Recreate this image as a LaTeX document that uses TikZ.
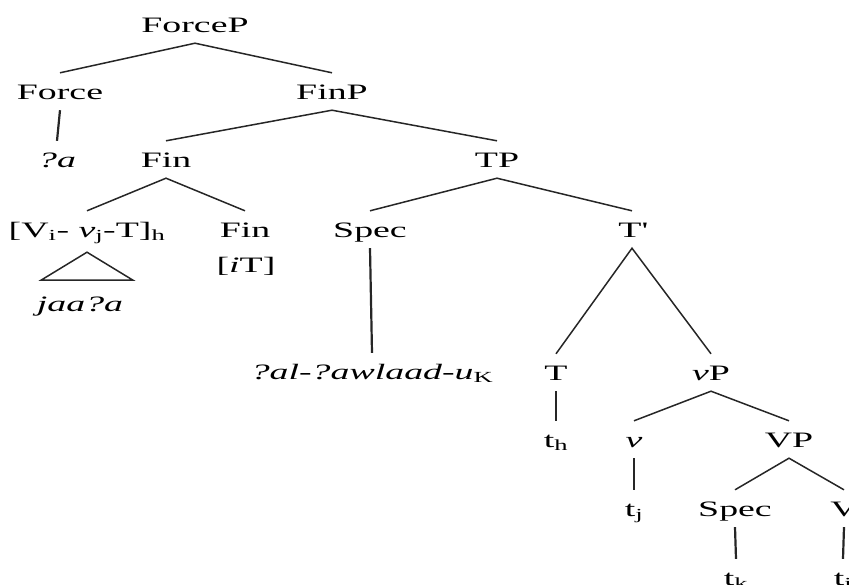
\documentclass[tikz,border=0pt]{standalone}
\usepackage{fontspec}
\setmainfont{Liberation Serif}[FakeStretch=1.72]
\begin{document}
\begin{tikzpicture}[x=1pt,y=-1pt,
  lbl/.style={anchor=base,inner xsep=0pt,inner ysep=11pt,text height=15pt,text depth=0pt,
    font=\fontsize{22}{26}\selectfont},
  br/.style={draw=black!85,line width=1.5pt},
  vbr/.style={draw=black!85,line width=2.2pt}]
\useasboundingbox (0,0) rectangle (849,584);
\clip (0,0) rectangle (849,584);
\node[lbl] (ForceP) at (195,32) {ForceP};
\node[lbl] (Force) at (60,99) {Force};
\node[lbl] (FinP) at (332,99) {FinP};
\node[lbl] (a) at (57,167) {\textit{?a}};
\node[lbl] (Fin) at (166,167) {Fin};
\node[lbl] (TP) at (497,167) {TP};
\node[lbl] (Vvt) at (87,237) {[V\textsubscript{i}- \textit{v}\textsubscript{j}-T]\textsubscript{h}};
\node[lbl] (FinH) at (245,237) {Fin};
\node[lbl] (FinF) at (246,272) {[\textit{i}T]};
\node[lbl] (jaa) at (80,311) {\textit{jaa?a}};
\node[lbl] (SpecT) at (370,237) {Spec};
\node[lbl] (Tbar) at (632,237) {T\textquotesingle};
\node[lbl] (al) at (372,379) {\textit{?al-?awlaad-u}\textsubscript{K}};
\node[lbl] (T) at (556,380) {T};
\node[lbl] (vP) at (711,380) {\textit{v}P};
\node[lbl] (th) at (556,447) {t\textsubscript{h}};
\node[lbl] (v) at (634,447) {\textit{v}};
\node[lbl] (VP) at (789,447) {VP};
\node[lbl] (tj) at (634,516) {t\textsubscript{j}};
\node[lbl] (SpecV) at (735,516) {Spec};
\node[lbl] (V) at (844,516) {V};
\node[lbl] (tk) at (736,585) {t\textsubscript{k}};
\node[lbl] (ti) at (843,585) {t\textsubscript{i}};
\draw[br] (Force.north) -- (ForceP.south) -- (FinP.north);
\draw[vbr] (Force.south) -- (a.north);
\draw[br] (Fin.north) -- (FinP.south) -- (TP.north);
\draw[br] (Vvt.north) -- (Fin.south) -- (FinH.north);
\draw[br] (Vvt.south) ++(0,4) -- ++(-46,28) -- ++(92,0) -- cycle;
\draw[br] (SpecT.north) -- (TP.south) -- (Tbar.north);
\draw[vbr] (SpecT.south) -- (al.north);
\draw[br] (T.north) -- (Tbar.south) -- (vP.north);
\draw[vbr] (T.south) -- (th.north);
\draw[br] (v.north) -- (vP.south) -- (VP.north);
\draw[vbr] (v.south) -- (tj.north);
\draw[br] (SpecV.north) -- (VP.south) -- (V.north);
\draw[vbr] (SpecV.south) -- (tk.north);
\draw[vbr] (V.south) -- (ti.north);
\end{tikzpicture}
\end{document}
